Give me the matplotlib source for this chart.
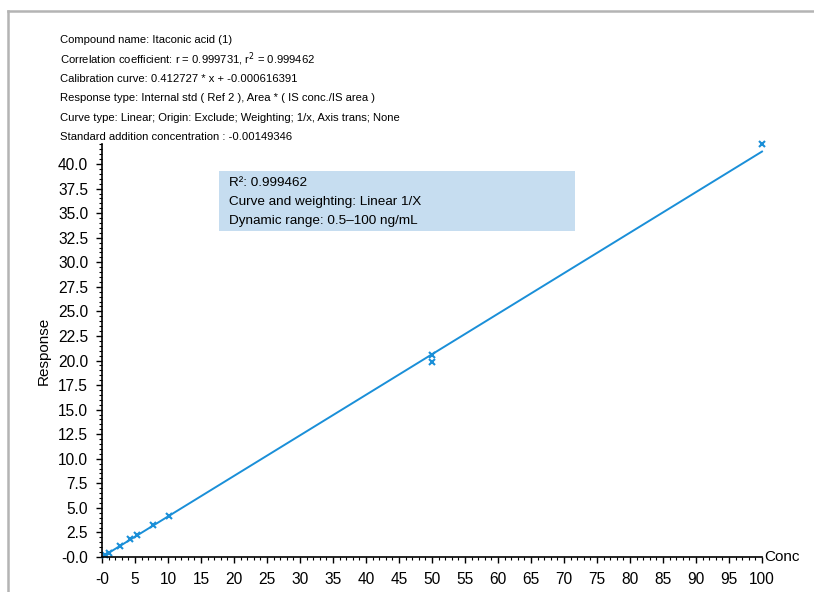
import matplotlib
matplotlib.use("Agg")
import matplotlib.pyplot as plt
from matplotlib.lines import Line2D
from matplotlib.ticker import MultipleLocator, FixedLocator, FixedFormatter

plt.rcParams['font.family'] = ['Liberation Sans', 'DejaVu Sans']

# calibration points
conc = [0.5, 1.0, 2.7, 4.3, 5.3, 7.8, 10.2, 50.0, 50.0, 100.0]
resp = [0.25, 0.45, 1.1, 1.8, 2.2, 3.3, 4.2, 20.6, 19.9, 42.0]
slope = 0.412727
intercept = -0.000616391
fit_x = [0.0, 100.0]

header = [
    "Compound name: Itaconic acid (1)",
    "Correlation coefficient: r = 0.999731, r$^2$ = 0.999462",
    "Calibration curve: 0.412727 * x + -0.000616391",
    "Response type: Internal std ( Ref 2 ), Area * ( IS conc./IS area )",
    "Curve type: Linear; Origin: Exclude; Weighting; 1/x, Axis trans; None",
    "Standard addition concentration : -0.00149346",
]
box_lines = [
    "R\u00b2: 0.999462",
    "Curve and weighting: Linear 1/X",
    "Dynamic range: 0.5\u2013100 ng/mL",
]

xticks = list(range(0, 101, 5))
xlabels = ["-0"] + [str(v) for v in xticks[1:]]
yticks = [i * 2.5 for i in range(17)]
ylabels = ["-0.0"] + [f"{v:.1f}" for v in yticks[1:]]

blue = "#1a8fd8"

fig = plt.figure(figsize=(8.14, 5.92), dpi=100)
ax = fig.add_axes([102 / 814, 1 - 557 / 592, 660 / 814, 412.6 / 592])

fit_y = [slope * x + intercept for x in fit_x]
ax.plot(fit_x, fit_y, color=blue, lw=1.4, clip_on=False)
ax.plot(conc, resp, ls="none", marker="x", ms=4, mew=1.5, color=blue, clip_on=False)

ax.set_xlim(0, 100)
ax.set_ylim(0, 42)
for s in ["top", "right"]:
    ax.spines[s].set_visible(False)
ax.spines["left"].set_linewidth(1.2)
ax.spines["bottom"].set_linewidth(1.2)

ax.xaxis.set_major_locator(FixedLocator(xticks))
ax.xaxis.set_major_formatter(FixedFormatter(xlabels))
ax.yaxis.set_major_locator(FixedLocator(yticks))
ax.yaxis.set_major_formatter(FixedFormatter(ylabels))
ax.xaxis.set_minor_locator(MultipleLocator(1))
ax.yaxis.set_minor_locator(MultipleLocator(0.5))
ax.tick_params(which="major", direction="out", length=4, width=1, labelsize=11.2)
ax.tick_params(axis="x", which="major", pad=7)
ax.tick_params(axis="y", which="major", pad=6)
ax.tick_params(which="minor", direction="out", length=2, width=0.8)

ax.set_ylabel("Response", fontsize=11, labelpad=5)
ax.text(1.004, 0, "Conc", transform=ax.transAxes, fontsize=11, va="center", ha="left")

# header text
for i, line in enumerate(header):
    fig.text(60 / 814, 1 - (40 + i * 19.4) / 592, line, fontsize=8.1, va="center", ha="left")

# info box
fig.patches.append(plt.Rectangle((219 / 814, 1 - 231 / 592), 356 / 814, 60 / 592,
                                 transform=fig.transFigure, facecolor="#c6ddf0",
                                 edgecolor="none", zorder=0))
for i, line in enumerate(box_lines):
    fig.text(229 / 814, 1 - (183 + i * 19) / 592, line, fontsize=9.7, va="center", ha="left")

# gray frame
fig.lines.append(Line2D([8 / 814, 8 / 814], [0, 1 - 11 / 592], transform=fig.transFigure,
                        color="#b4b4b4", lw=1.8))
fig.lines.append(Line2D([8 / 814, 1], [1 - 11 / 592, 1 - 11 / 592], transform=fig.transFigure,
                        color="#b4b4b4", lw=1.8))

fig.savefig("out.png", dpi=100)
